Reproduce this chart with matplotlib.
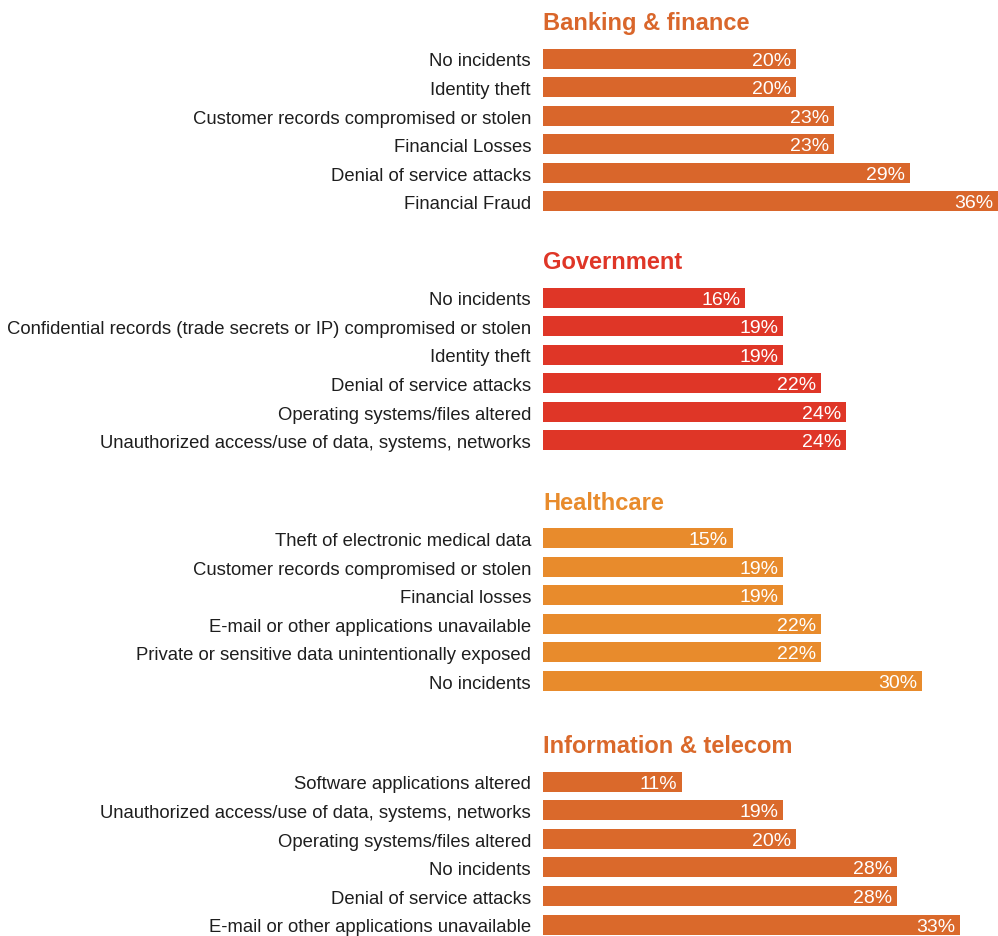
import matplotlib.pyplot as plt
from matplotlib.transforms import offset_copy

plt.rcParams['font.family'] = ['Liberation Sans', 'DejaVu Sans']

# sector titles and their colours
sectors = ['Banking & finance', 'Government', 'Healthcare', 'Information & telecom']
sector_colors = ['#D9662B', '#DF3627', '#E88B2C', '#DA692B']

banking_labels = ['No incidents', 'Identity theft', 'Customer records compromised or stolen',
                  'Financial Losses', 'Denial of service attacks', 'Financial Fraud']
banking_values = [20, 20, 23, 23, 29, 36]

government_labels = ['No incidents', 'Confidential records (trade secrets or IP) compromised or stolen',
                     'Identity theft', 'Denial of service attacks', 'Operating systems/files altered',
                     'Unauthorized access/use of data, systems, networks']
government_values = [16, 19, 19, 22, 24, 24]

healthcare_labels = ['Theft of electronic medical data', 'Customer records compromised or stolen',
                     'Financial losses', 'E-mail or other applications unavailable',
                     'Private or sensitive data unintentionally exposed', 'No incidents']
healthcare_values = [15, 19, 19, 22, 22, 30]

telecom_labels = ['Software applications altered', 'Unauthorized access/use of data, systems, networks',
                  'Operating systems/files altered', 'No incidents', 'Denial of service attacks',
                  'E-mail or other applications unavailable']
telecom_values = [11, 19, 20, 28, 28, 33]

all_labels = [banking_labels, government_labels, healthcare_labels, telecom_labels]
all_values = [banking_values, government_values, healthcare_values, telecom_values]

fig = plt.figure(figsize=(9.98, 9.36), dpi=100)
# the axes covers only the bar area; y runs in row units, top to bottom
ax = fig.add_axes([543 / 998, 0, 455 / 998, 1])
ax.set_xlim(0, 36)
ax.set_ylim(32.75, 0)
ax.axis('off')

# text sits on its baseline, a little below the bar centre
label_tf = offset_copy(ax.transData, fig=fig, x=-12, y=-7.8, units='dots')
value_tf = offset_copy(ax.transData, fig=fig, x=-5, y=-7, units='dots')
title_tf = offset_copy(ax.transData, fig=fig, x=0, y=-6, units='dots')

title_rows = [0.85, 9.21, 17.63, 26.15]
row_step = 1.0
for g, (title, color) in enumerate(zip(sectors, sector_colors)):
    y0 = title_rows[g]
    ax.text(0, y0, title, transform=title_tf, fontsize=17, fontweight='bold',
            color=color, ha='left', va='baseline')
    for i, (lab, val) in enumerate(zip(all_labels[g], all_values[g])):
        y = y0 + 1.2 + i * row_step
        ax.barh(y, val, height=0.7, color=color, left=0)
        ax.text(0, y, lab, transform=label_tf, ha='right', va='baseline',
                fontsize=13.3, color='#1e1e1e')
        ax.text(val, y, f'{val}%', transform=value_tf, ha='right', va='baseline',
                fontsize=14, color='white')

fig.savefig('out.png', dpi=100, facecolor='white')
